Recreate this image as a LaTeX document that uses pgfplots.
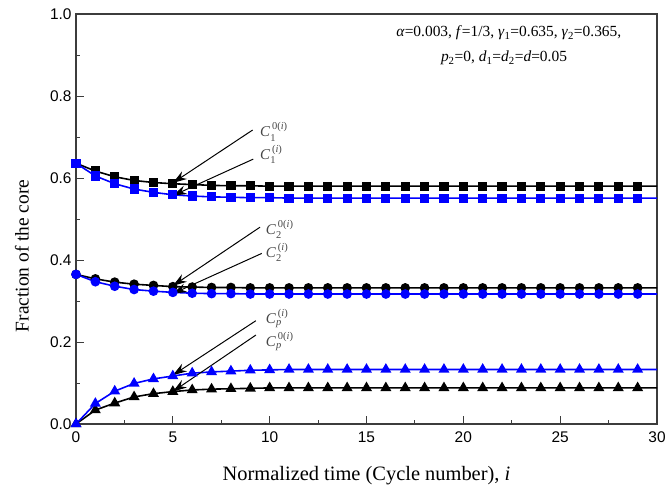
\documentclass[border=0pt]{standalone}
\usepackage{amsmath}
\usepackage{fontspec}
\setmainfont{Liberation Serif}
\newfontfamily\tickfont{Liberation Sans}
\usepackage{pgfplots}
\usepackage{pgfplotstable}
\pgfplotsset{compat=1.18}
\usetikzlibrary{arrows.meta}
\definecolor{pblue}{RGB}{0,0,255}
\definecolor{axgray}{RGB}{60,60,60}
\definecolor{labgray}{RGB}{70,70,70}

\pgfplotstableread{
x    ca    cb    cc    cd    ce    cf
0    0.636 0.636 0.365 0.365 0.000 0.000
1    0.617 0.605 0.354 0.347 0.034 0.050
2    0.603 0.586 0.346 0.336 0.051 0.080
3    0.594 0.573 0.341 0.328 0.066 0.099
4    0.589 0.565 0.338 0.324 0.074 0.110
5    0.586 0.559 0.335 0.321 0.079 0.117
6    0.584 0.556 0.334 0.319 0.083 0.124
7    0.582 0.554 0.333 0.318 0.085 0.127
8    0.581 0.553 0.333 0.318 0.086 0.129
9    0.581 0.552 0.332 0.317 0.087 0.131
10   0.580 0.552 0.332 0.317 0.088 0.132
11   0.580 0.551 0.332 0.317 0.088 0.133
12   0.580 0.551 0.332 0.317 0.088 0.133
13   0.580 0.551 0.332 0.317 0.088 0.133
14   0.580 0.551 0.332 0.317 0.088 0.133
15   0.580 0.551 0.332 0.317 0.088 0.133
16   0.580 0.551 0.332 0.317 0.088 0.133
17   0.580 0.551 0.332 0.317 0.088 0.133
18   0.580 0.551 0.332 0.317 0.088 0.133
19   0.580 0.551 0.332 0.317 0.088 0.133
20   0.580 0.551 0.332 0.317 0.088 0.133
21   0.580 0.551 0.332 0.317 0.088 0.133
22   0.580 0.551 0.332 0.317 0.088 0.133
23   0.580 0.551 0.332 0.317 0.088 0.133
24   0.580 0.551 0.332 0.317 0.088 0.133
25   0.580 0.551 0.332 0.317 0.088 0.133
26   0.580 0.551 0.332 0.317 0.088 0.133
27   0.580 0.551 0.332 0.317 0.088 0.133
28   0.580 0.551 0.332 0.317 0.088 0.133
29   0.580 0.551 0.332 0.317 0.088 0.133
30   0.580 0.551 0.332 0.317 0.088 0.133
}\datatable

\newcommand{\lab}[2]{\textit{C}$_{\text{#1}}^{\,\text{#2}}$}

\begin{document}
\begin{tikzpicture}
\begin{axis}[
  at={(0,0)}, anchor=south west,
  scale only axis,
  width=581bp, height=410bp,
  xmin=0, xmax=30, ymin=0, ymax=1,
  xtick={0,5,...,30}, ytick={0,0.2,...,1.0},
  minor x tick num=1, minor y tick num=1,
  xtick pos=bottom, ytick pos=left,
  tick align=inside,
  major tick length=8bp, minor tick length=4.5bp,
  every tick/.style={axgray, line width=0.9pt},
  axis line style={axgray, line width=1.3pt},
  /pgf/number format/assume math mode=true,
  ticklabel style={font=\tickfont\fontsize{15.5}{15.5}\selectfont, black},
  xticklabel style={yshift=-4bp},
  yticklabel style={xshift=-1bp, /pgf/number format/.cd, fixed, fixed zerofill, precision=1},
  xlabel={Normalized time (Cycle number), \textit{i}},
  ylabel={Fraction of the core},
  xlabel style={font=\fontsize{20.5}{20.5}\selectfont, at={(rel axis cs:0.5,0)}, anchor=base, yshift=-56bp},
  ylabel style={font=\fontsize{19.5}{19.5}\selectfont, at={(rel axis cs:0,0.41)}, anchor=center, yshift=54bp},
  clip=false,
]
\addplot[black, line width=1.6pt, mark=square*, mark size=3.8pt, mark indices={1,...,30}] table[x=x, y=ca] {\datatable};
\addplot[pblue, line width=1.6pt, mark=square*, mark size=3.8pt, mark indices={1,...,30}] table[x=x, y=cb] {\datatable};
\addplot[black, line width=1.6pt, mark=*, mark size=4pt, mark indices={1,...,30}] table[x=x, y=cc] {\datatable};
\addplot[pblue, line width=1.6pt, mark=*, mark size=4pt, mark indices={1,...,30}] table[x=x, y=cd] {\datatable};
\addplot[black, line width=1.6pt, mark=triangle*, mark size=4.8pt, mark indices={1,...,30}] table[x=x, y=ce] {\datatable};
\addplot[pblue, line width=1.6pt, mark=triangle*, mark size=4.8pt, mark indices={1,...,30}] table[x=x, y=cf] {\datatable};

\begin{scope}[black, line width=1pt, -{Stealth[length=14pt, width=9pt]}]
\draw (axis cs:9.12,0.717) -- (axis cs:5.0,0.588);
\draw (axis cs:9.15,0.646) -- (axis cs:5.0,0.557);
\draw (axis cs:9.5,0.480) -- (axis cs:5.0,0.337);
\draw (axis cs:9.59,0.416) -- (axis cs:5.0,0.318);
\draw (axis cs:9.29,0.252) -- (axis cs:5.0,0.119);
\draw (axis cs:9.29,0.217) -- (axis cs:5.0,0.079);
\end{scope}

\begin{scope}[every node/.style={anchor=base west, inner sep=0pt, text=labgray, font=\fontsize{15}{15}\selectfont}]
\node at (axis cs:9.5,0.700) {\lab{1}{0(\textit{i})}};
\node at (axis cs:9.5,0.645) {\lab{1}{(\textit{i})}};
\node at (axis cs:9.8,0.462) {\lab{2}{0(\textit{i})}};
\node at (axis cs:9.8,0.406) {\lab{2}{(\textit{i})}};
\node at (axis cs:9.8,0.245) {\lab{\textit{p}}{(\textit{i})}};
\node at (axis cs:9.8,0.189) {\lab{\textit{p}}{0(\textit{i})}};
\end{scope}

\begin{scope}[every node/.style={anchor=base, inner sep=0pt, font=\fontsize{15.5}{15.5}\selectfont}]
\node at (axis cs:22.35,0.944) {\textit{α}=0.003, \textit{f}=1/3, \textit{γ}$_{\text{1}}$=0.635, \textit{γ}$_{\text{2}}$=0.365,};
\node at (axis cs:22.1,0.883) {\textit{p}$_{\text{2}}$=0, \textit{d}$_{\text{1}}$=\textit{d}$_{\text{2}}$=\textit{d}=0.05};
\end{scope}
\end{axis}
\pgfresetboundingbox
\path[use as bounding box] (-76bp,-69bp) rectangle (590bp,424bp);
\end{tikzpicture}
\end{document}
